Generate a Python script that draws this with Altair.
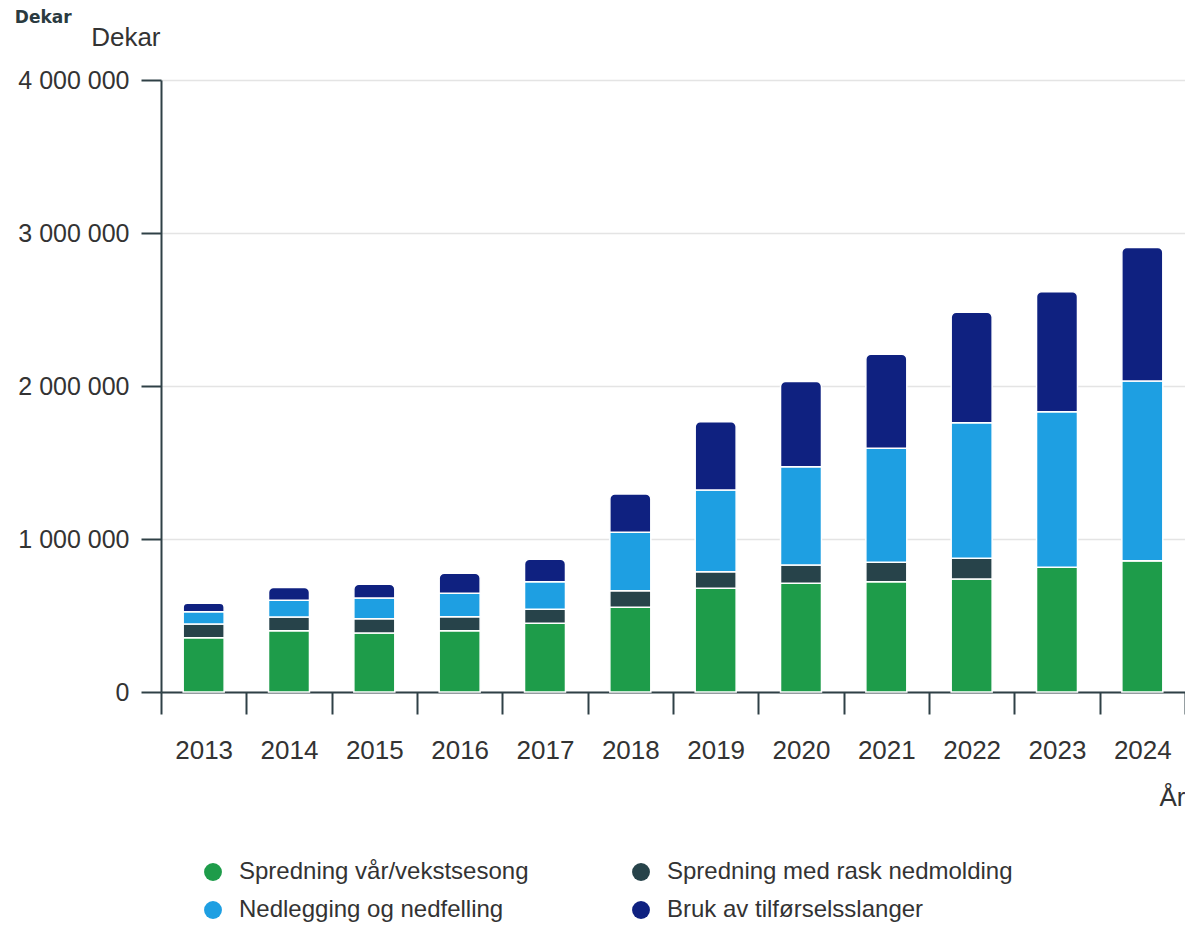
import altair as alt
import pandas as pd

years = ["2013", "2014", "2015", "2016", "2017", "2018", "2019", "2020", "2021", "2022", "2023", "2024"]
series = [
    "Spredning vår/vekstsesong",
    "Spredning med rask nedmolding",
    "Nedlegging og nedfelling",
    "Bruk av tilførselsslanger",
]
colors = ["#1e9c4a", "#27434a", "#1e9fe2", "#0f2180"]

spredning_var = [355000, 400000, 386000, 400000, 449000, 554000, 678000, 710000, 721000, 739000, 815000, 858000]
rask_nedmolding = [90000, 91000, 92000, 92000, 92000, 108000, 108000, 120000, 127000, 135000, 0, 0]
nedlegging = [80000, 109000, 137000, 153000, 180000, 382000, 534000, 643000, 745000, 886000, 1017000, 1174000]
tilforselsslanger = [55000, 83000, 90000, 131000, 146000, 250000, 447000, 556000, 614000, 722000, 784000, 874000]

y_ticks = [0, 1000000, 2000000, 3000000, 4000000]

rows = []
for si, (name, vals) in enumerate(zip(series, [spredning_var, rask_nedmolding, nedlegging, tilforselsslanger])):
    for yr, v in zip(years, vals):
        rows.append({"year": yr, "series": name, "order": si, "value": v})
df = pd.DataFrame(rows)

FONT = "Liberation Sans"
TXT = "#333333"
AXC = "#2f4046"

base = alt.Chart(df).transform_stack(
    stack="value",
    groupby=["year"],
    as_=["v0", "v1"],
    sort=[alt.SortField("order", order="ascending")],
).encode(
    x=alt.X(
        "year:N",
        sort=years,
        scale=alt.Scale(paddingInner=0, paddingOuter=0),
        axis=alt.Axis(
            title="År",
            titleAngle=0,
            titleAlign="right",
            titleBaseline="alphabetic",
            titleX=1024,
            titleY=113,
            titleFontSize=26,
            titleFontWeight="normal",
            titleColor=TXT,
            titleFont=FONT,
            labelAngle=0,
            labelFontSize=26,
            labelFont=FONT,
            labelColor=TXT,
            labelBaseline="alphabetic",
            labelPadding=44,
            tickBand="extent",
            tickSize=22,
            tickColor=AXC,
            tickWidth=2,
            domainColor=AXC,
            domainWidth=2,
            grid=False,
        ),
    ),
    y=alt.Y(
        "v0:Q",
        scale=alt.Scale(domain=[0, 4000000], nice=False),
        axis=alt.Axis(
            values=y_ticks,
            title="Dekar",
            titleAngle=0,
            titleAlign="right",
            titleBaseline="alphabetic",
            titleX=-1,
            titleY=-35,
            titleFontSize=26,
            titleFontWeight="normal",
            titleColor=TXT,
            titleFont=FONT,
            labelFontSize=25,
            labelFont=FONT,
            labelColor=TXT,
            labelPadding=12,
            labelExpr="replace(replace(format(datum.value, ','), ',', ' '), ',', ' ')",
            tickSize=20,
            tickColor=AXC,
            tickWidth=2,
            domainColor=AXC,
            domainWidth=2,
            gridColor="#e4e4e4",
            gridWidth=1.5,
        ),
    ),
    y2="v1:Q",
    color=alt.Color(
        "series:N",
        sort=series,
        scale=alt.Scale(domain=series, range=colors),
        legend=alt.Legend(
            title=None,
            orient="none",
            direction="horizontal",
            legendX=40,
            legendY=780,
            columns=2,
            symbolType="circle",
            symbolSize=320,
            symbolStrokeWidth=0,
            symbolOpacity=1,
            labelFontSize=24,
            labelFont=FONT,
            labelColor=TXT,
            labelOffset=14,
            labelLimit=500,
            columnPadding=100,
            rowPadding=14,
            padding=0,
        ),
    ),
)

bar_w = alt.RelativeBandSize(0.48)
lower = base.transform_filter(alt.datum.order < 3).mark_bar(
    stroke="white", strokeWidth=1.5, width=bar_w
)
top = base.transform_filter(alt.datum.order == 3).mark_bar(
    stroke="white", strokeWidth=1.5, width=bar_w,
    cornerRadiusTopLeft=5, cornerRadiusTopRight=5,
)

chart = alt.layer(lower, top).properties(
    width=1024,
    height=612,
    autosize=alt.AutoSizeParams(type="none"),
    padding={"left": 153, "top": 72, "right": 0, "bottom": 230},
    title=alt.TitleParams(
        "Dekar",
        anchor="start",
        frame="bounds",
        font="DejaVu Sans",
        fontSize=17,
        fontWeight="bold",
        color="#2a3a40",
        baseline="bottom",
        offset=2,
        dx=-3,
        dy=22,
    ),
).configure_view(stroke=None)

chart.save("out.html", embed_options={"renderer": "svg", "actions": False})
